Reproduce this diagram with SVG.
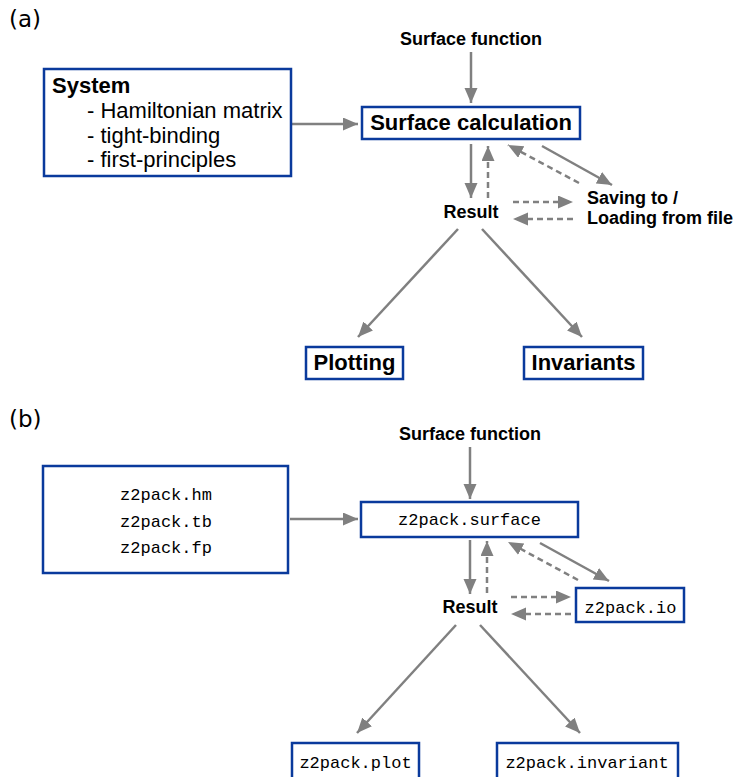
<svg xmlns="http://www.w3.org/2000/svg" width="733" height="777" viewBox="0 0 733 777">
<style>
.box{fill:#fff;stroke:#0a3a9c;stroke-width:2.5}
.lab{font-family:"DejaVu Sans",sans-serif;font-size:23px;fill:#000}
.b18{font-family:"Liberation Sans",Arial,sans-serif;font-weight:bold;font-size:18px;fill:#000}
.b22{font-family:"Liberation Sans",Arial,sans-serif;font-weight:bold;font-size:22px;fill:#000}
.r22{font-family:"Liberation Sans",Arial,sans-serif;font-size:22px;fill:#000}
.m17{font-family:"Liberation Mono","Courier New",monospace;font-size:17px;fill:#000}
.c{stroke:#808080;stroke-width:2.5;fill:none;marker-end:url(#ah)}
.d{stroke-dasharray:6 4}
</style>
<defs>
<marker id="ah" markerUnits="userSpaceOnUse" markerWidth="16" markerHeight="14" refX="15" refY="6.5" orient="auto">
<path d="M0,0 L15,6.5 L0,13 Z" fill="#808080"/>
</marker>
</defs>
<text class="lab" x="9" y="27">(a)</text>
<text class="lab" x="9" y="427">(b)</text>

<g id="connectors">
<line class="c" x1="471" y1="52" x2="471" y2="103"/>
<line class="c" x1="292" y1="124" x2="358" y2="124"/>
<line class="c" x1="471" y1="144" x2="471" y2="198"/>
<line class="c d" x1="488" y1="198" x2="488" y2="146"/>
<line class="c" x1="542" y1="146" x2="612" y2="185"/>
<line class="c d" x1="579" y1="183" x2="508" y2="145"/>
<line class="c d" x1="513" y1="202" x2="573" y2="202"/>
<line class="c d" x1="573" y1="219" x2="513" y2="219"/>
<line class="c" x1="458" y1="229" x2="358" y2="337"/>
<line class="c" x1="482" y1="229" x2="582" y2="337"/>

<line class="c" x1="470" y1="447" x2="470" y2="499"/>
<line class="c" x1="290" y1="519" x2="358" y2="519"/>
<line class="c" x1="470" y1="540" x2="470" y2="594"/>
<line class="c d" x1="487" y1="593" x2="487" y2="541"/>
<line class="c" x1="540" y1="543" x2="609" y2="581"/>
<line class="c d" x1="578" y1="580" x2="508" y2="542"/>
<line class="c d" x1="511" y1="597" x2="571" y2="597"/>
<line class="c d" x1="571" y1="614" x2="511" y2="614"/>
<line class="c" x1="456" y1="625" x2="357" y2="733"/>
<line class="c" x1="480" y1="625" x2="580" y2="733"/>
</g>

<g id="a-surface-function"><text class="b18" x="471" y="45" text-anchor="middle">Surface function</text></g>
<g id="a-system">
<rect class="box" x="44" y="69" width="247" height="107"/>
<text class="b22" x="52" y="93">System</text>
<text class="r22" x="87" y="118">- Hamiltonian matrix</text>
<text class="r22" x="87" y="143">- tight-binding</text>
<text class="r22" x="87" y="167">- first-principles</text>
</g>
<g id="a-surface-calc">
<rect class="box" x="362" y="107" width="218" height="32"/>
<text class="b22" x="471" y="130" text-anchor="middle">Surface calculation</text>
</g>
<g id="a-result"><text class="b18" x="471" y="218" text-anchor="middle">Result</text></g>
<g id="a-saving">
<text class="b18" x="587" y="204">Saving to /</text>
<text class="b18" x="587" y="224">Loading from file</text>
</g>
<g id="a-plotting">
<rect class="box" x="306" y="347" width="97" height="32"/>
<text class="b22" x="354.500" y="370" text-anchor="middle">Plotting</text>
</g>
<g id="a-invariants">
<rect class="box" x="524" y="347" width="119" height="32"/>
<text class="b22" x="583.500" y="370" text-anchor="middle">Invariants</text>
</g>

<g id="b-surface-function"><text class="b18" x="470" y="440" text-anchor="middle">Surface function</text></g>
<g id="b-system">
<rect class="box" x="43" y="466" width="245" height="107"/>
<text class="m17" x="166" y="500" text-anchor="middle">z2pack.hm</text>
<text class="m17" x="166" y="527" text-anchor="middle">z2pack.tb</text>
<text class="m17" x="166" y="553" text-anchor="middle">z2pack.fp</text>
</g>
<g id="b-surface">
<rect class="box" x="361" y="502" width="217" height="35"/>
<text class="m17" x="469.500" y="525" text-anchor="middle">z2pack.surface</text>
</g>
<g id="b-result"><text class="b18" x="470" y="613" text-anchor="middle">Result</text></g>
<g id="b-io">
<rect class="box" x="576" y="588" width="108" height="34"/>
<text class="m17" x="630.500" y="613" text-anchor="middle">z2pack.io</text>
</g>
<g id="b-plot">
<rect class="box" x="292" y="743" width="127" height="50"/>
<text class="m17" x="355.500" y="768" text-anchor="middle">z2pack.plot</text>
</g>
<g id="b-invariant">
<rect class="box" x="497" y="743" width="181" height="50"/>
<text class="m17" x="587" y="768" text-anchor="middle">z2pack.invariant</text>
</g>
</svg>
